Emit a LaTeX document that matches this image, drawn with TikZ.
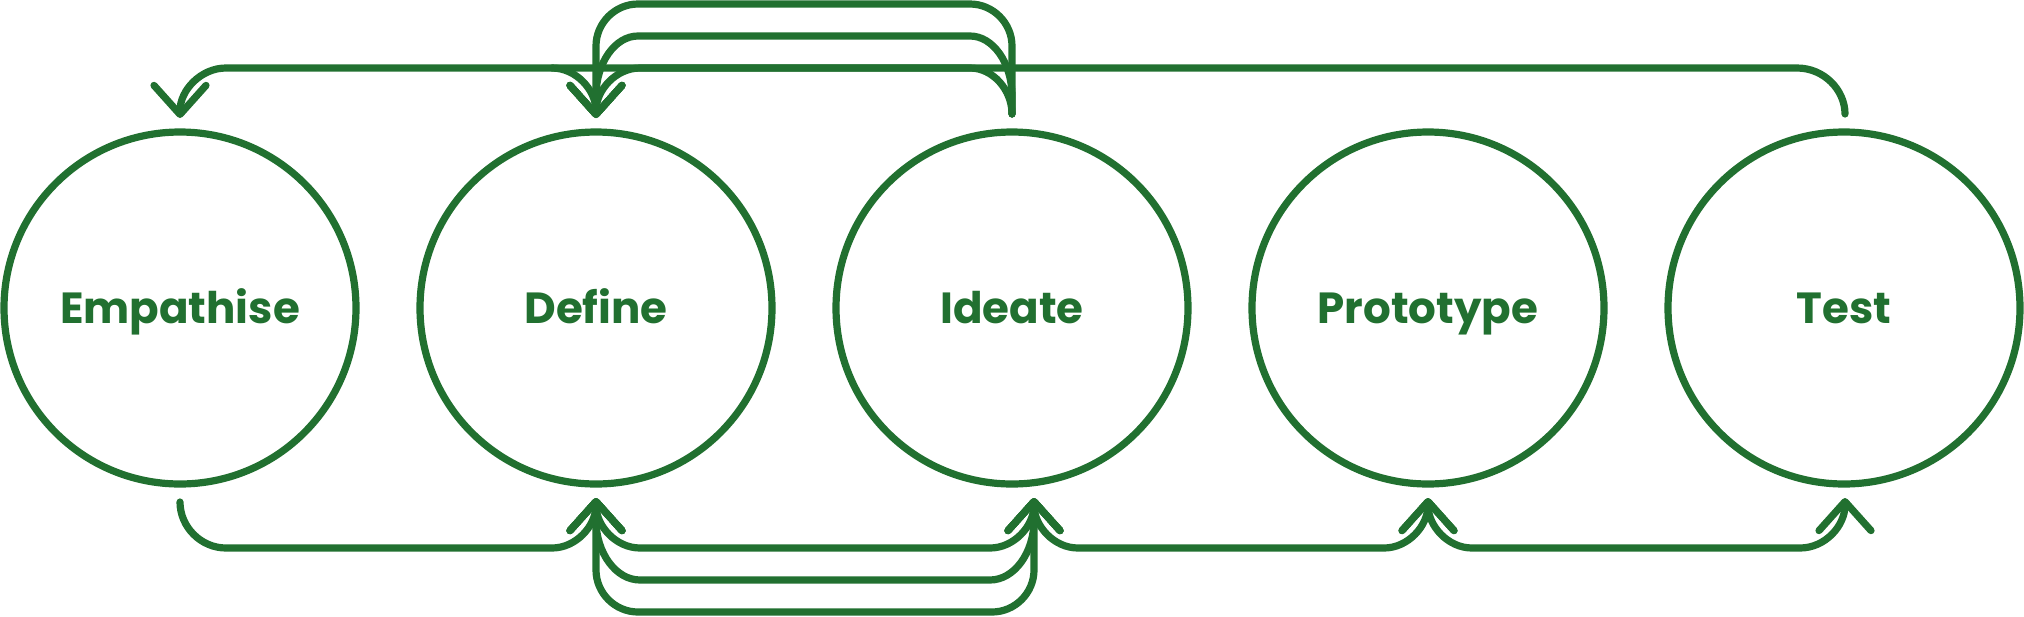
\documentclass[tikz,border=0pt]{standalone}
\usepackage{fontspec}
\setmainfont{Poppins}[Ligatures=NoCommon]
\usetikzlibrary{arrows.meta}
\definecolor{dtgreen}{RGB}{33,112,48}
\tikzset{
  phase/.style={circle, draw=dtgreen, line width=0.72mm, minimum size=35.2mm, inner sep=0pt},
  word/.style={anchor=base, inner sep=0pt, text=dtgreen, font=\fontsize{12.4pt}{15pt}\selectfont\bfseries},
  flow/.style={draw=dtgreen, line width=0.72mm, line cap=round, line join=round},
  barb/.tip={Straight Barb[round,length=2.9mm,width=5.2mm]},
  arrowend/.style={-barb},
  arrowboth/.style={barb-barb},
}
\begin{document}
\begin{tikzpicture}[x=0.1mm,y=0.1mm]
		\useasboundingbox (0,0) rectangle (2024,616);
		\node [phase] (E) at (180,308) {};
		\node [phase] (D) at (596,308) {};
		\node [phase] (I) at (1012,308) {};
		\node [phase] (P) at (1428,308) {};
		\node [phase] (T) at (1844,308) {};
		\node [word] (Ew) at ([yshift=-1.55mm]E.center) {Empathise};
		\node [word] (Dw) at ([yshift=-1.55mm]D.center) {Define};
		\node [word] (Iw) at ([yshift=-1.55mm]I.center) {Ideate};
		\node [word] (Pw) at ([yshift=-1.55mm]P.center) {Prototype};
		\node [word] (Tw) at ([yshift=-1.55mm]T.center) {Test};
		% ends above the circles
		\coordinate (Et) at (180,498);
		\coordinate (Dt) at (596,498);
		\coordinate (It) at (1012,502);
		\coordinate (Tt) at (1845,502);
		\coordinate (Dl) at (552,548);
		% ends below the circles
		\coordinate (Eb) at (180,114);
		\coordinate (Db) at (596,118);
		\coordinate (Ib) at (1034,118);
		\coordinate (Pb) at (1428,118);
		\coordinate (Tb) at (1845,118);
		% top: back to earlier phases
		\draw [flow, arrowend] (Tt) .. controls (1845,526) and (1824,548) .. (1797,548) -- (226,548) .. controls (201,548) and (180,526) .. (Et);
		\draw [flow, arrowend] (It) .. controls (1012,526) and (993,548) .. (970,548) -- (640,548) .. controls (616,548) and (596,526) .. (Dt);
		\draw [flow, arrowend] (Dl) .. controls (576,548) and (596,526) .. (Dt);
		\draw [flow, arrowend] (It) -- (1012,520) .. controls (1012,553) and (993,580) .. (970,580) -- (638,580) .. controls (615,580) and (596,553) .. (596,520) -- (Dt);
		\draw [flow, arrowend] (It) -- (1012,570) .. controls (1012,593) and (993,612) .. (970,612) -- (638,612) .. controls (615,612) and (596,593) .. (596,570) -- (Dt);
		% bottom: on to later phases
		\draw [flow, arrowend] (Eb) .. controls (180,89) and (201,68) .. (226,68) -- (552,68) .. controls (576,68) and (596,90) .. (Db);
		\draw [flow, arrowboth] (Db) .. controls (596,90) and (616,68) .. (640,68) -- (990,68) .. controls (1014,68) and (1034,90) .. (Ib);
		\draw [flow, arrowboth] (Db) -- (596,96) .. controls (596,63) and (616,36) .. (640,36) -- (990,36) .. controls (1014,36) and (1034,63) .. (1034,96) -- (Ib);
		\draw [flow, arrowboth] (Db) -- (596,46) .. controls (596,23) and (615,4) .. (638,4) -- (992,4) .. controls (1015,4) and (1034,23) .. (1034,46) -- (Ib);
		\draw [flow, arrowboth] (Ib) .. controls (1034,90) and (1054,68) .. (1078,68) -- (1384,68) .. controls (1408,68) and (1428,90) .. (Pb);
		\draw [flow, arrowboth] (Pb) .. controls (1428,90) and (1448,68) .. (1472,68) -- (1800,68) .. controls (1825,68) and (1845,90) .. (Tb);
	\end{tikzpicture}
\end{document}
